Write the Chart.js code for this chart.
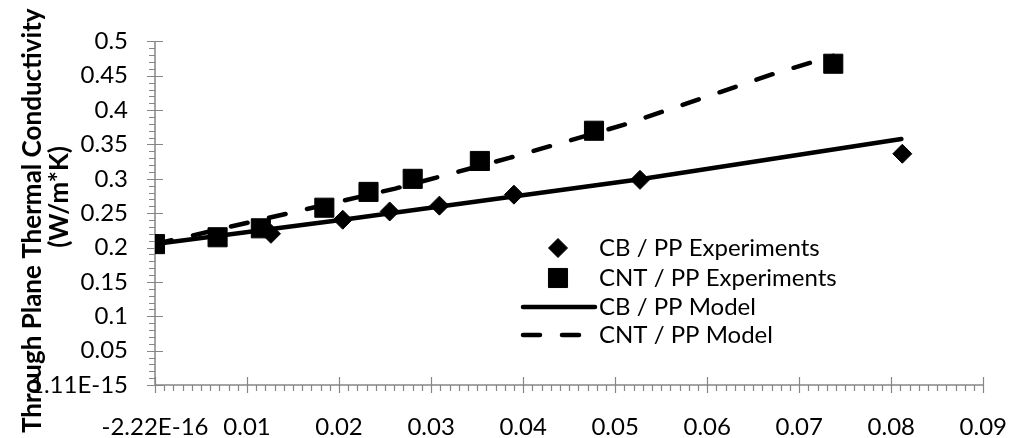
<!DOCTYPE html>
<html>
<head>
    <title>Through Plane Thermal Conductivity</title>
    <style>
        html, body {
            margin: 0;
            padding: 0;
            background: #fff;
        }
        .chart-box {
            width: 1035px;
            height: 438px;
            position: relative;
        }
    </style>
    <script src="https://cdn.jsdelivr.net/npm/chart.js"></script>
</head>
<body>
    <div class="chart-box">
        <canvas id="tcChart"></canvas>
    </div>

    <script>
        // Experimental points (filler fraction vs conductivity, W/m*K)
        const cbExpX = [0, 0.0126, 0.0204, 0.0255, 0.0309, 0.039, 0.0527, 0.0812];
        const cbExpY = [0.205, 0.220, 0.2405, 0.2525, 0.261, 0.277, 0.2985, 0.3365];
        const cntExpX = [0, 0.0068, 0.0115, 0.0184, 0.0232, 0.028, 0.0353, 0.0477, 0.0737];
        const cntExpY = [0.205, 0.215, 0.228, 0.258, 0.281, 0.300, 0.326, 0.370, 0.4675];

        // Model curves
        const cbModelX = [0, 0.0204, 0.0527, 0.0811];
        const cbModelY = [0.205, 0.2405, 0.2995, 0.358];
        const cntModelX = [0, 0.0261, 0.0385, 0.0509, 0.0672, 0.0737];
        const cntModelY = [0.205, 0.2858, 0.3304, 0.3784, 0.4527, 0.479];

        const xTickLabels = ['-2.22E-16', '0.01', '0.02', '0.03', '0.04', '0.05', '0.06', '0.07', '0.08', '0.09'];
        const yTickLabels = ['1.11E-15', '0.05', '0.1', '0.15', '0.2', '0.25', '0.3', '0.35', '0.4', '0.45', '0.5'];

        const toPoints = (xs, ys) => xs.map((x, i) => ({x: x, y: ys[i]}));

        const AXIS_COLOR = '#868686';
        const FONT = 'Lato';

        Chart.defaults.font.family = FONT;
        Chart.defaults.font.size = 24;
        Chart.defaults.color = '#000';

        // axis lines with crossing major ticks and outside minor ticks
        const axisPlugin = {
            id: 'axisPlugin',
            beforeDatasetsDraw(chart) {
                const ctx = chart.ctx;
                const xs = chart.scales.x;
                const ys = chart.scales.y;
                const area = chart.chartArea;
                ctx.save();
                ctx.strokeStyle = AXIS_COLOR;
                ctx.lineWidth = 1.5;
                ctx.beginPath();
                ctx.moveTo(area.left, area.top);
                ctx.lineTo(area.left, area.bottom);
                ctx.lineTo(area.right, area.bottom);
                ctx.stroke();

                ctx.lineWidth = 1.2;
                ctx.beginPath();
                for (let i = 0; i <= 90; i++) {
                    const px = Math.round(xs.getPixelForValue(i / 1000)) + 0.5;
                    if (i % 10 === 0) {
                        ctx.moveTo(px, area.bottom - 8);
                        ctx.lineTo(px, area.bottom + 8);
                    } else {
                        ctx.moveTo(px, area.bottom);
                        ctx.lineTo(px, area.bottom + 6);
                    }
                }
                for (let i = 0; i <= 50; i++) {
                    const py = Math.round(ys.getPixelForValue(i / 100)) + 0.5;
                    if (i % 5 === 0) {
                        ctx.moveTo(area.left - 8, py);
                        ctx.lineTo(area.left + 8, py);
                    } else {
                        ctx.moveTo(area.left - 6, py);
                        ctx.lineTo(area.left, py);
                    }
                }
                ctx.stroke();
                ctx.restore();
            }
        };

        // rotated two-line y title
        const yTitlePlugin = {
            id: 'yTitlePlugin',
            afterDraw(chart) {
                const ctx = chart.ctx;
                ctx.save();
                ctx.fillStyle = '#000';
                ctx.font = 'bold 26px ' + FONT;
                ctx.translate(41, 433);
                ctx.rotate(-Math.PI / 2);
                ctx.textAlign = 'left';
                ctx.fillText('Through Plane Thermal Conductivity', 0, 0);
                ctx.restore();

                ctx.save();
                ctx.fillStyle = '#000';
                ctx.font = 'bold 26px ' + FONT;
                ctx.translate(68, 197);
                ctx.rotate(-Math.PI / 2);
                ctx.textAlign = 'center';
                ctx.fillText('(W/m*K)', 0, 0);
                ctx.restore();
            }
        };

        // legend inside the plot, one row per dataset
        const legendPlugin = {
            id: 'legendPlugin',
            afterDraw(chart, args, opts) {
                const ctx = chart.ctx;
                chart.data.datasets.forEach((ds, i) => {
                    const y = opts.rows[i];
                    ctx.save();
                    if (ds.showLine === false) {
                        ctx.fillStyle = '#000';
                        ctx.strokeStyle = '#000';
                        Chart.helpers.drawPoint(ctx, {
                            pointStyle: ds.pointStyle,
                            radius: ds.pointRadius,
                            rotation: 0,
                            borderWidth: ds.pointBorderWidth
                        }, opts.markerX, y);
                    } else {
                        ctx.strokeStyle = ds.borderColor;
                        ctx.lineWidth = ds.borderWidth;
                        ctx.lineCap = ds.borderCapStyle || 'butt';
                        ctx.setLineDash(ds.borderDash || []);
                        ctx.beginPath();
                        ctx.moveTo(opts.lineX1, y);
                        ctx.lineTo(opts.lineX2, y);
                        ctx.stroke();
                    }
                    ctx.restore();

                    ctx.save();
                    ctx.fillStyle = '#000';
                    ctx.font = '24px ' + FONT;
                    ctx.textAlign = 'left';
                    ctx.textBaseline = 'middle';
                    ctx.fillText(ds.label, opts.textX, y);
                    ctx.restore();
                });
            }
        };

        new Chart(document.getElementById('tcChart'), {
            type: 'scatter',
            data: {
                datasets: [
                    {
                        label: 'CB / PP Experiments',
                        data: toPoints(cbExpX, cbExpY),
                        showLine: false,
                        pointStyle: 'rectRot',
                        pointRadius: 9.5,
                        pointBorderWidth: 1,
                        backgroundColor: '#000',
                        borderColor: '#000',
                        order: 1
                    },
                    {
                        label: 'CNT / PP Experiments',
                        data: toPoints(cntExpX, cntExpY),
                        showLine: false,
                        pointStyle: 'rect',
                        pointRadius: 13.5,
                        pointBorderWidth: 1,
                        backgroundColor: '#000',
                        borderColor: '#000',
                        order: 0
                    },
                    {
                        label: 'CB / PP Model',
                        data: toPoints(cbModelX, cbModelY),
                        showLine: true,
                        pointRadius: 0,
                        borderColor: '#000',
                        borderWidth: 4.5,
                        borderCapStyle: 'round',
                        order: 2
                    },
                    {
                        label: 'CNT / PP Model',
                        data: toPoints(cntModelX, cntModelY),
                        showLine: true,
                        pointRadius: 0,
                        borderColor: '#000',
                        borderWidth: 4.5,
                        borderDash: [17, 22],
                        borderCapStyle: 'round',
                        order: 3
                    }
                ]
            },
            options: {
                responsive: true,
                maintainAspectRatio: false,
                animation: false,
                layout: {
                    padding: {top: 15, right: 40, left: 0, bottom: 0}
                },
                plugins: {
                    legend: {display: false},
                    tooltip: {enabled: false},
                    legendPlugin: {
                        rows: [248, 278, 307, 335],
                        markerX: 558,
                        lineX1: 523,
                        lineX2: 595,
                        textX: 599
                    }
                },
                scales: {
                    x: {
                        type: 'linear',
                        min: 0,
                        max: 0.09,
                        afterFit: s => { s.height = 53; },
                        afterBuildTicks: s => {
                            s.ticks = xTickLabels.map((_, i) => ({value: i / 100}));
                        },
                        ticks: {
                            padding: 28,
                            maxRotation: 0,
                            autoSkip: false,
                            callback: (v, i) => xTickLabels[i]
                        },
                        grid: {display: false, drawTicks: false},
                        border: {display: false}
                    },
                    y: {
                        type: 'linear',
                        min: 0,
                        max: 0.5,
                        afterFit: s => { s.width = 155; },
                        afterBuildTicks: s => {
                            s.ticks = yTickLabels.map((_, i) => ({value: i / 20}));
                        },
                        ticks: {
                            padding: 27,
                            autoSkip: false,
                            callback: (v, i) => yTickLabels[i]
                        },
                        grid: {display: false, drawTicks: false},
                        border: {display: false}
                    }
                }
            },
            plugins: [axisPlugin, yTitlePlugin, legendPlugin]
        });
    </script>
</body>
</html>
